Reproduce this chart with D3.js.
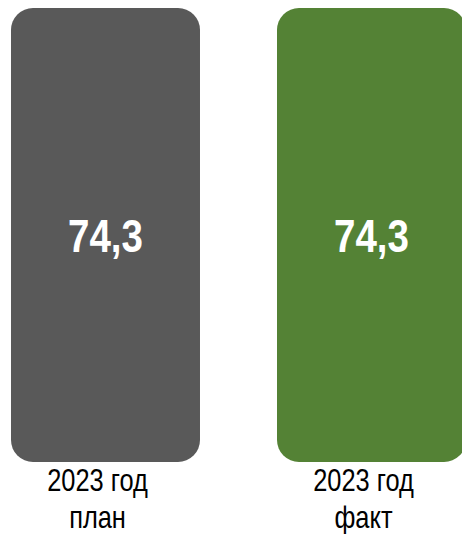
<!DOCTYPE html>
<html>
<head>
<meta charset="utf-8">
<script src="https://cdn.jsdelivr.net/npm/d3@7"></script>
<style>
  html, body { margin: 0; padding: 0; background: #fff; }
  svg { display: block; }
</style>
</head>
<body>
<div id="chart"></div>
<script>
var categories = ["plan", "fact"];
var values = [74.3, 74.3];
var labelLine1 = ["2023 год", "2023 год"];
var labelLine2 = ["план", "факт"];
var colors = ["#595959", "#548235"];

var width = 462, height = 534;
var font = "'Liberation Sans', Arial, sans-serif";
var narrow = 0.82; // reference uses a narrow face, squeeze horizontally

var svg = d3.select("#chart").append("svg")
  .attr("width", width)
  .attr("height", height);

var x = d3.scaleBand()
  .domain(categories)
  .range([11, 466])
  .paddingInner(0.2895)
  .paddingOuter(0);

var y = d3.scaleLinear()
  .domain([0, 74.3])
  .range([462, 8]);

var data = categories.map(function(c, i) {
  return { cat: c, value: values[i], color: colors[i], l1: labelLine1[i], l2: labelLine2[i] };
});

var g = svg.selectAll("g.bar").data(data).enter().append("g").attr("class", "bar");

g.append("rect")
  .attr("x", function(d) { return x(d.cat); })
  .attr("y", function(d) { return y(d.value); })
  .attr("width", x.bandwidth())
  .attr("height", function(d) { return y(0) - y(d.value); })
  .attr("rx", 22)
  .attr("ry", 22)
  .attr("fill", function(d) { return d.color; });

function placed(tx, ty) {
  return "translate(" + tx + "," + ty + ") scale(" + narrow + ",1)";
}

// value label in the middle of the bar
g.append("text")
  .attr("transform", function(d) {
    return placed(x(d.cat) + x.bandwidth() / 2, (y(d.value) + y(0)) / 2 + 17);
  })
  .attr("text-anchor", "middle")
  .attr("font-family", font)
  .attr("font-weight", "bold")
  .attr("font-size", 47)
  .attr("fill", "#fff")
  .text(function(d) { return d3.format(".1f")(d.value).replace(".", ","); });

// category labels, two lines
g.append("text")
  .attr("transform", function(d) { return placed(x(d.cat) + x.bandwidth() / 2 - 8, 491); })
  .attr("text-anchor", "middle")
  .attr("font-family", font)
  .attr("font-size", 31)
  .attr("fill", "#000")
  .text(function(d) { return d.l1; });

g.append("text")
  .attr("transform", function(d) { return placed(x(d.cat) + x.bandwidth() / 2 - 8, 528); })
  .attr("text-anchor", "middle")
  .attr("font-family", font)
  .attr("font-size", 31)
  .attr("fill", "#000")
  .text(function(d) { return d.l2; });
</script>
</body>
</html>
